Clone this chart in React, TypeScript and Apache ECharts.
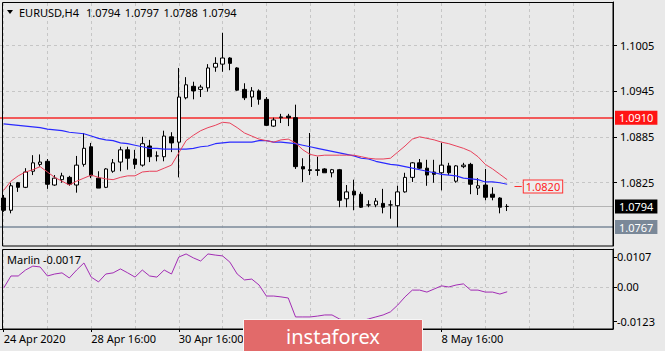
import React, { useEffect, useRef } from "react";
import * as echarts from "echarts";

// ---- data (EURUSD H4) ----
const symbolName = "EURUSD,H4";
const openP = [1.0805,1.0789,1.0825,1.0819,1.0840,1.0849,1.0853,1.0822,1.0829,1.0832,
  1.0822,1.0849,1.0872,1.0831,1.0819,1.0840,1.0852,1.0868,1.0856,1.0848,
  1.0873,1.0860,1.0859,1.0885,1.0878,1.0936,1.0951,1.0947,1.0949,1.0976,
  1.0980,1.0988,1.0975,1.0947,1.0937,1.0945,1.0934,1.0899,1.0910,1.0912,
  1.0910,1.0846,1.0842,1.0841,1.0843,1.0838,1.0842,1.0804,1.0814,1.0810,
  1.0796,1.0796,1.0798,1.0796,1.0795,1.0813,1.0832,1.0851,1.0844,1.0839,
  1.0838,1.0847,1.0827,1.0846,1.0849,1.0818,1.0822,1.0810,1.0805,1.0794];
const highP = [1.0809,1.0825,1.0826,1.0844,1.0861,1.0862,1.0856,1.0835,1.0838,1.0834,
  1.0860,1.0890,1.0877,1.0840,1.0844,1.0856,1.0872,1.0872,1.0868,1.0885,
  1.0881,1.0866,1.0893,1.0891,1.0975,1.0963,1.0957,1.0953,1.0980,1.0989,
  1.1021,1.0989,1.0976,1.0955,1.0950,1.0947,1.0937,1.0910,1.0915,1.0915,
  1.0927,1.0857,1.0890,1.0859,1.0844,1.0843,1.0843,1.0822,1.0829,1.0813,
  1.0802,1.0805,1.0817,1.0802,1.0821,1.0838,1.0852,1.0856,1.0855,1.0855,
  1.0877,1.0851,1.0848,1.0851,1.0851,1.0831,1.0843,1.0819,1.0806,1.0797];
const lowP = [1.0787,1.0785,1.0813,1.0818,1.0835,1.0846,1.0817,1.0821,1.0825,1.0821,
  1.0812,1.0846,1.0831,1.0818,1.0818,1.0838,1.0840,1.0842,1.0843,1.0846,
  1.0852,1.0853,1.0853,1.0865,1.0832,1.0934,1.0934,1.0937,1.0944,1.0970,
  1.0970,1.0972,1.0945,1.0933,1.0924,1.0927,1.0899,1.0898,1.0903,1.0899,
  1.0843,1.0826,1.0835,1.0834,1.0838,1.0832,1.0793,1.0793,1.0789,1.0792,
  1.0793,1.0793,1.0785,1.0778,1.0767,1.0812,1.0826,1.0843,1.0821,1.0825,
  1.0815,1.0835,1.0825,1.0844,1.0810,1.0809,1.0802,1.0802,1.0785,1.0788];
const closeP = [1.0789,1.0821,1.0819,1.0839,1.0851,1.0852,1.0823,1.0831,1.0834,1.0823,
  1.0848,1.0870,1.0834,1.0818,1.0843,1.0851,1.0868,1.0857,1.0849,1.0876,
  1.0859,1.0860,1.0886,1.0877,1.0937,1.0953,1.0945,1.0950,1.0975,1.0981,
  1.0988,1.0981,1.0946,1.0936,1.0945,1.0934,1.0900,1.0907,1.0911,1.0910,
  1.0846,1.0843,1.0841,1.0842,1.0838,1.0842,1.0802,1.0813,1.0809,1.0793,
  1.0796,1.0801,1.0793,1.0796,1.0813,1.0832,1.0851,1.0844,1.0835,1.0836,
  1.0848,1.0838,1.0847,1.0848,1.0823,1.0821,1.0806,1.0806,1.0793,1.0794];
const redMA = [1.0815,1.0827,1.0834,1.0839,1.0842,1.0846,1.0839,1.0832,1.0827,1.0822,
  1.0827,1.0831,1.0835,1.0832,1.0830,1.0829,1.0832,1.0834,1.0834,1.0839,
  1.0840,1.0840,1.0844,1.0848,1.0864,1.0880,1.0887,1.0893,1.0897,1.0900,
  1.0904,1.0903,1.0897,1.0890,1.0886,1.0882,1.0880,1.0878,1.0881,1.0882,
  1.0877,1.0868,1.0862,1.0860,1.0861,1.0861,1.0861,1.0861,1.0861,1.0859,
  1.0857,1.0856,1.0856,1.0857,1.0865,1.0873,1.0882,1.0885,1.0883,1.0881,
  1.0878,1.0876,1.0873,1.0870,1.0866,1.0859,1.0849,1.0843,1.0836,1.0829];
const blueMA = [1.0902,1.0901,1.0900,1.0899,1.0898,1.0897,1.0895,1.0894,1.0893,1.0891,
  1.0890,1.0889,1.0886,1.0883,1.0881,1.0880,1.0877,1.0876,1.0874,1.0872,
  1.0870,1.0870,1.0869,1.0869,1.0869,1.0869,1.0870,1.0872,1.0873,1.0876,
  1.0877,1.0878,1.0878,1.0878,1.0878,1.0880,1.0880,1.0878,1.0878,1.0877,
  1.0876,1.0874,1.0872,1.0870,1.0868,1.0866,1.0864,1.0862,1.0860,1.0857,
  1.0856,1.0853,1.0851,1.0849,1.0848,1.0846,1.0844,1.0842,1.0840,1.0838,
  1.0836,1.0835,1.0834,1.0831,1.0830,1.0829,1.0826,1.0826,1.0825,1.0823];
const marlin = [-0.0004,0.0039,0.0039,0.0060,0.0074,0.0071,0.0039,0.0046,0.0050,0.0032,
  0.0060,0.0085,0.0035,0.0018,0.0046,0.0050,0.0064,0.0050,0.0035,0.0060,
  0.0039,0.0035,0.0060,0.0046,0.0106,0.0117,0.0103,0.0092,0.0117,0.0113,
  0.0110,0.0088,0.0046,0.0025,0.0028,0.0007,-0.0032,-0.0032,-0.0035,-0.0039,
  -0.0106,-0.0106,-0.0106,-0.0103,-0.0099,-0.0099,-0.0113,-0.0120,-0.0124,-0.0120,
  -0.0113,-0.0106,-0.0099,-0.0088,-0.0064,-0.0035,-0.0011,-0.0011,-0.0018,-0.0007,
  0.0004,0.0000,0.0007,0.0011,-0.0011,-0.0011,-0.0018,-0.0018,-0.0025,-0.0017];

const priceTicks = [1.0825, 1.0885, 1.0945, 1.1005];
const marlinTicks = [-0.0123, 0, 0.0107];
const resistanceLevel = 1.0910;
const supportLevel = 1.0767;
const targetLevel = 1.0820;
const labeledTimes = ["24 Apr 16:00", "28 Apr 16:00", "30 Apr 16:00", "8 May 16:00"];
const labeledTexts = ["24 Apr 2020", "28 Apr 16:00", "30 Apr 16:00", "8 May 16:00"];
const futureBars = 14;

const MONTHS = ["Jan","Feb","Mar","Apr","May","Jun","Jul","Aug","Sep","Oct","Nov","Dec"];
function buildCategories(count: number): string[] {
  const out: string[] = [];
  let t = Date.UTC(2020, 3, 24, 16);
  while (out.length < count) {
    const d = new Date(t);
    const wd = d.getUTCDay();
    if (wd !== 0 && wd !== 6) {
      out.push(`${d.getUTCDate()} ${MONTHS[d.getUTCMonth()]} ${String(d.getUTCHours()).padStart(2, "0")}:00`);
    }
    t += 4 * 3600 * 1000;
  }
  return out;
}

const FONT = "Noto Sans";
const gridDash = () => ({ color: "#c6c6c6", type: [3, 3] as any, width: 1 });

export default function App() {
  const ref = useRef<HTMLDivElement>(null);
  useEffect(() => {
    if (!ref.current) return;
    const chart = echarts.init(ref.current, undefined, { renderer: "svg" });
    const n = openP.length;
    const cats = buildCategories(n + futureBars);
    const candles = openP.map((o, i) => [o, closeP[i], lowP[i], highP[i]]);
    const dayLines = cats.filter((c) => c.endsWith(" 16:00"));
    const last = n - 1;

    const option: any = {
      animation: false,
      backgroundColor: "#e9e9e9",
      textStyle: { fontFamily: FONT, fontSize: 11 },
      grid: [
        { left: -0.65, right: 52, top: 2, height: 244 },
        { left: -0.65, right: 52, top: 249, height: 80 },
      ],
      xAxis: [
        { type: "category", gridIndex: 0, data: cats, boundaryGap: true, show: false },
        {
          type: "category", gridIndex: 1, data: cats, boundaryGap: true,
          axisLine: { show: true, onZero: false, lineStyle: { color: "#000", width: 1 } },
          axisTick: {
            show: true, alignWithLabel: true, length: 3,
            interval: (_i: number, v: string) => labeledTimes.includes(v),
            lineStyle: { color: "#000" },
          },
          axisLabel: {
            interval: (_i: number, v: string) => labeledTimes.includes(v),
            formatter: (v: string) => { const k = labeledTimes.indexOf(v); return k >= 0 ? labeledTexts[k] : ""; },
            align: "left", color: "#000", fontSize: 11, margin: 4, fontFamily: FONT,
          },
          splitLine: { show: false },
        },
      ],
      yAxis: [
        {
          type: "value", gridIndex: 0, position: "right", min: 1.07423, max: 1.10612,
          axisLine: { show: true, lineStyle: { color: "#000" } },
          axisTick: { show: true, length: 4, customValues: priceTicks, lineStyle: { color: "#000" } },
          axisLabel: { customValues: priceTicks, formatter: (v: number) => v.toFixed(4), color: "#000", margin: 7, fontSize: 11, fontFamily: FONT },
          splitLine: { show: false },
        },
        {
          type: "value", gridIndex: 1, position: "right", min: -0.01487, max: 0.01345,
          axisLine: { show: true, lineStyle: { color: "#000" } },
          axisTick: { show: true, length: 4, customValues: marlinTicks, lineStyle: { color: "#000" } },
          axisLabel: { customValues: marlinTicks, formatter: (v: number) => (v === 0 ? "0.00" : v.toFixed(4)), color: "#000", margin: 4, fontSize: 11, fontFamily: FONT },
          splitLine: { show: false },
        },
      ],
      series: [
        {
          type: "candlestick", xAxisIndex: 0, yAxisIndex: 0, data: candles, barWidth: 4, z: 2,
          itemStyle: { color: "#ffffff", color0: "#000000", borderColor: "#000000", borderColor0: "#000000", borderWidth: 1 },
        },
        {
          type: "line", xAxisIndex: 0, yAxisIndex: 0, data: blueMA, showSymbol: false, z: 3,
          lineStyle: { color: "#2a2aff", width: 1.2 },
          markLine: {
            silent: true, symbol: ["none", "none"], z: 1, precision: 4, label: { show: false },
            data: [
              ...priceTicks.map((v) => ({ yAxis: v, lineStyle: gridDash() })),
              ...dayLines.map((c) => ({ xAxis: c, lineStyle: gridDash() })),
            ],
          },
        },
        {
          type: "line", xAxisIndex: 0, yAxisIndex: 0, data: redMA, showSymbol: false, z: 3,
          lineStyle: { color: "#e8405a", width: 1 },
          markLine: {
            silent: true, symbol: ["none", "none"], z: 1, precision: 4,
            data: [
              {
                yAxis: closeP[last], lineStyle: { color: "#b4b4b4", width: 1, type: "solid" },
                label: { show: true, position: "end", distance: 2, formatter: closeP[last].toFixed(4), color: "#fff", backgroundColor: "#000", padding: [2, 4, 1, 4], fontSize: 11, fontFamily: FONT },
              },
              {
                yAxis: supportLevel, lineStyle: { color: "#7a8898", width: 1.5, type: "solid" },
                label: { show: true, position: "end", distance: 2, formatter: supportLevel.toFixed(4), color: "#fff", backgroundColor: "#7a8898", padding: [2, 4, 1, 4], fontSize: 11, fontFamily: FONT },
              },
              {
                yAxis: resistanceLevel, lineStyle: { color: "#f25a5a", width: 2, type: "solid" },
                label: { show: true, position: "end", distance: 2, formatter: resistanceLevel.toFixed(4), color: "#fff", backgroundColor: "#ff1414", padding: [2, 4, 1, 4], fontSize: 11, fontFamily: FONT },
              },
              [
                { coord: [cats[n], targetLevel], lineStyle: { color: "#ff3030", width: 1, type: "solid" },
                  label: { show: true, position: "end", distance: 2, formatter: targetLevel.toFixed(4), color: "#ff2020", backgroundColor: "#ededed", borderColor: "#ff3030", borderWidth: 1, padding: [1, 2, 0, 2], fontSize: 11, fontFamily: FONT } },
                { coord: [cats[n + 1], targetLevel] },
              ],
            ],
          },
        },
        {
          type: "line", xAxisIndex: 1, yAxisIndex: 1, data: marlin, showSymbol: false, z: 3,
          lineStyle: { color: "#a22db4", width: 1 },
          markLine: {
            silent: true, symbol: ["none", "none"], z: 1, precision: 4, label: { show: false },
            data: [
              { yAxis: 0, lineStyle: gridDash() },
              ...dayLines.map((c) => ({ xAxis: c, lineStyle: gridDash() })),
            ],
          },
        },
      ],
      graphic: [
        { type: "rect", z: 50, shape: { x: 2.5, y: 2.5, width: 610.5, height: 243.5 }, style: { fill: "none", stroke: "#000", lineWidth: 1 } },
        { type: "rect", z: 50, shape: { x: 2.5, y: 249.5, width: 610.5, height: 79.5 }, style: { fill: "none", stroke: "#000", lineWidth: 1 } },
        { type: "polygon", z: 50, shape: { points: [[7, 10], [13, 10], [10, 14]] }, style: { fill: "#000" } },
        { type: "text", z: 50, x: 19, y: 12, style: { text: symbolName, fill: "#000", font: `11px "${FONT}"`, verticalAlign: "middle" } },
        ...[openP[last], highP[last], lowP[last], closeP[last]].map((v, k) => ({
          type: "text", z: 50, x: 86 + k * 38.7, y: 12,
          style: { text: v.toFixed(4), fill: "#000", font: `11px "${FONT}"`, verticalAlign: "middle" },
        })),
        { type: "text", z: 50, x: 7, y: 259, style: { text: `Marlin ${marlin[last].toFixed(4)}`, fill: "#000", font: `11px "${FONT}"`, verticalAlign: "middle" } },
        { type: "rect", z: 100, shape: { x: 243.5, y: 319.5, width: 179, height: 40 }, style: { fill: "#e26a6a", stroke: "#f6f6f6", lineWidth: 1 } },
        { type: "text", z: 101, x: 333, y: 336, style: { text: "instaforex", fill: "#ffffff", font: `20px "${FONT}"`, align: "center", verticalAlign: "middle" } },
      ],
    };
    chart.setOption(option);
    return () => chart.dispose();
  }, []);
  return <div ref={ref} style={{ position: "absolute", left: 0, top: 0, width: 665, height: 351 }} />;
}
